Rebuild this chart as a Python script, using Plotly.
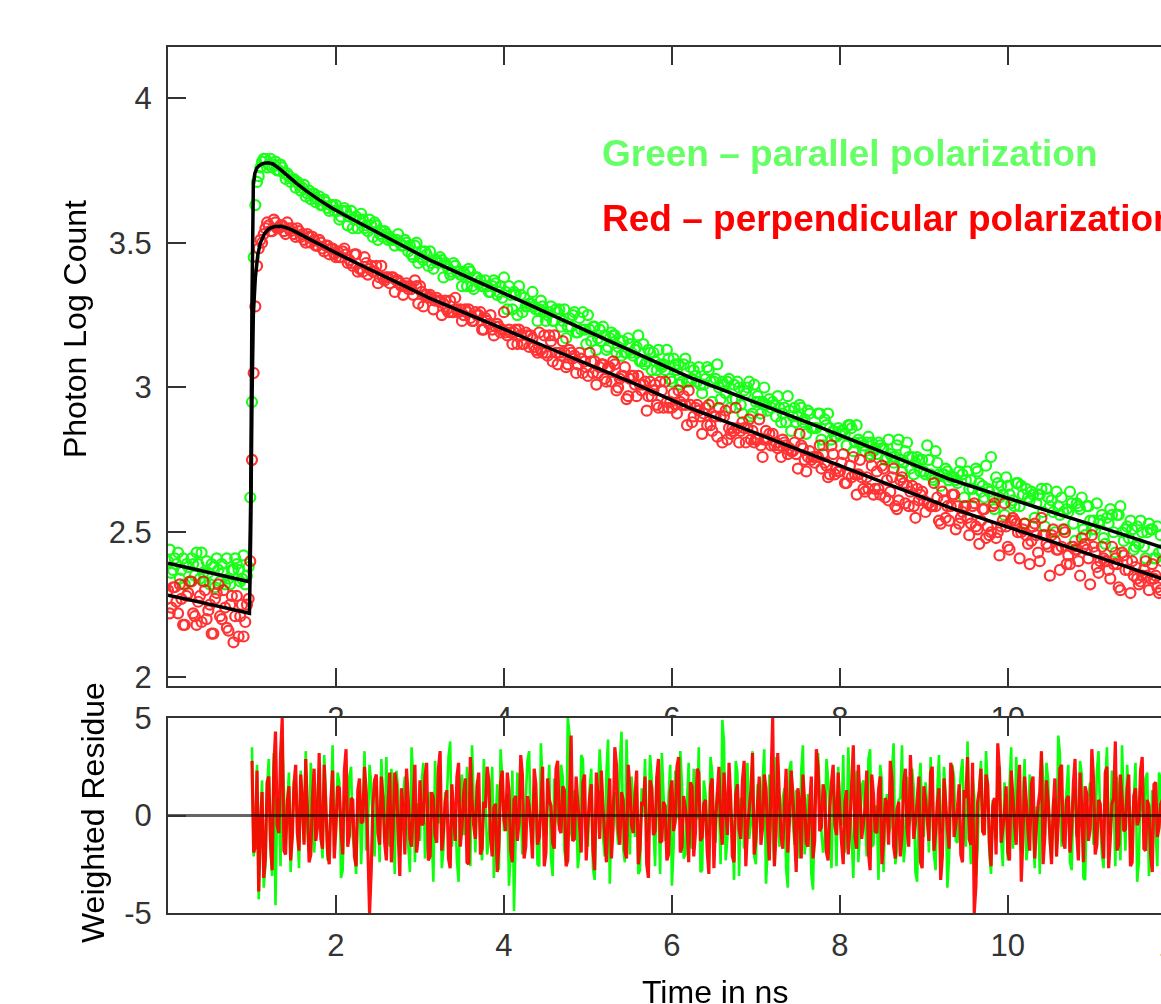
import plotly.graph_objects as go

# ---------------- data ----------------
channel_width_ns = 0.02          # TCSPC time channel width
n_channels = 593
time_ns = [round(channel_width_ns * c, 2) for c in range(n_channels)]

# log10 photon counts, even channels (0, 2, 4, ...) and odd channels (1, 3, 5, ...)
green_log_count_even = [
    2.40, 2.36, 2.41, 2.43, 2.37, 2.32, 2.38, 2.41, 2.35, 2.39,
    2.43, 2.33, 2.36, 2.39, 2.31, 2.37, 2.39, 2.32, 2.34, 2.37,
    2.41, 2.37, 2.34, 2.32, 2.38, 2.95, 3.63, 3.73, 3.78, 3.79,
    3.77, 3.76, 3.78, 3.75, 3.76, 3.72, 3.73, 3.72, 3.69, 3.70,
    3.69, 3.66, 3.68, 3.67, 3.64, 3.66, 3.63, 3.64, 3.61, 3.63,
    3.63, 3.58, 3.61, 3.61, 3.59, 3.55, 3.59, 3.58, 3.58, 3.56,
    3.58, 3.52, 3.56, 3.53, 3.52, 3.53, 3.52, 3.51, 3.51, 3.50,
    3.49, 3.50, 3.49, 3.45, 3.50, 3.45, 3.44, 3.46, 3.47, 3.41,
    3.44, 3.45, 3.38, 3.42, 3.39, 3.43, 3.40, 3.39, 3.40, 3.35,
    3.40, 3.34, 3.38, 3.37, 3.35, 3.35, 3.33, 3.37, 3.32, 3.35,
    3.38, 3.27, 3.32, 3.33, 3.25, 3.32, 3.31, 3.28, 3.29, 3.28,
    3.23, 3.30, 3.26, 3.25, 3.28, 3.23, 3.26, 3.21, 3.27, 3.21,
    3.21, 3.26, 3.19, 3.20, 3.20, 3.25, 3.16, 3.21, 3.17, 3.16,
    3.18, 3.14, 3.19, 3.18, 3.14, 3.11, 3.12, 3.17, 3.12, 3.13,
    3.18, 3.09, 3.08, 3.13, 3.06, 3.09, 3.13, 3.07, 3.06, 3.10,
    3.02, 3.08, 3.08, 3.02, 3.10, 3.02, 3.03, 3.04, 3.07, 2.98,
    3.03, 3.06, 2.95, 3.03, 3.00, 3.02, 2.98, 3.03, 2.96, 2.96,
    3.00, 2.91, 2.98, 3.02, 2.91, 2.95, 2.95, 2.95, 2.94, 2.96,
    2.95, 2.90, 2.93, 2.91, 2.88, 2.92, 2.90, 2.88, 2.94, 2.88,
    2.84, 2.91, 2.86, 2.86, 2.91, 2.80, 2.87, 2.86, 2.85, 2.83,
    2.84, 2.85, 2.80, 2.87, 2.78, 2.87, 2.81, 2.80, 2.81, 2.77,
    2.78, 2.77, 2.80, 2.79, 2.76, 2.77, 2.74, 2.80, 2.75, 2.74,
    2.81, 2.72, 2.70, 2.76, 2.71, 2.71, 2.80, 2.70, 2.68, 2.74,
    2.66, 2.70, 2.71, 2.69, 2.69, 2.67, 2.74, 2.62, 2.71, 2.68,
    2.62, 2.71, 2.64, 2.62, 2.65, 2.76, 2.58, 2.67, 2.66, 2.56,
    2.66, 2.60, 2.59, 2.67, 2.66, 2.53, 2.62, 2.64, 2.55, 2.63,
    2.65, 2.52, 2.62, 2.61, 2.50, 2.59, 2.62, 2.51, 2.57, 2.60,
    2.47, 2.59, 2.62, 2.49, 2.59, 2.51, 2.51, 2.53, 2.56, 2.46,
    2.53, 2.56, 2.43, 2.56, 2.50, 2.51, 2.48, 2.51, 2.45, 2.46,
    2.50, 2.41, 2.53, 2.51, 2.41, 2.43, 2.44,
]
green_log_count_odd = [
    2.44, 2.37, 2.39, 2.34, 2.41, 2.39, 2.33, 2.39, 2.43, 2.34,
    2.36, 2.40, 2.32, 2.38, 2.41, 2.33, 2.36, 2.41, 2.32, 2.37,
    2.39, 2.33, 2.42, 2.35, 2.62, 3.45, 3.71, 3.76, 3.79, 3.76,
    3.79, 3.77, 3.75, 3.77, 3.74, 3.74, 3.71, 3.72, 3.71, 3.68,
    3.70, 3.67, 3.65, 3.67, 3.65, 3.63, 3.65, 3.62, 3.63, 3.61,
    3.61, 3.59, 3.62, 3.56, 3.61, 3.58, 3.55, 3.60, 3.55, 3.54,
    3.56, 3.57, 3.51, 3.54, 3.54, 3.51, 3.51, 3.49, 3.53, 3.49,
    3.51, 3.47, 3.46, 3.49, 3.43, 3.47, 3.47, 3.42, 3.43, 3.44,
    3.43, 3.44, 3.43, 3.41, 3.40, 3.42, 3.40, 3.35, 3.39, 3.41,
    3.35, 3.38, 3.36, 3.35, 3.37, 3.33, 3.35, 3.36, 3.33, 3.31,
    3.33, 3.35, 3.27, 3.32, 3.35, 3.26, 3.28, 3.29, 3.33, 3.27,
    3.27, 3.28, 3.23, 3.26, 3.23, 3.27, 3.27, 3.23, 3.17, 3.24,
    3.25, 3.19, 3.24, 3.26, 3.15, 3.20, 3.21, 3.13, 3.20, 3.21,
    3.13, 3.17, 3.18, 3.12, 3.16, 3.16, 3.12, 3.15, 3.11, 3.14,
    3.09, 3.15, 3.09, 3.12, 3.12, 3.06, 3.08, 3.08, 3.13, 3.03,
    3.10, 3.06, 3.01, 3.08, 3.02, 3.07, 3.06, 3.02, 3.01, 3.01,
    3.07, 3.02, 3.02, 3.08, 2.96, 3.01, 3.02, 2.93, 3.01, 3.02,
    2.94, 2.99, 3.00, 2.90, 3.01, 2.97, 2.91, 3.00, 2.92, 2.93,
    2.94, 2.97, 2.88, 2.93, 2.97, 2.85, 2.93, 2.90, 2.93, 2.89,
    2.92, 2.86, 2.86, 2.91, 2.82, 2.89, 2.91, 2.82, 2.83, 2.86,
    2.85, 2.84, 2.87, 2.86, 2.81, 2.82, 2.81, 2.78, 2.83, 2.81,
    2.79, 2.81, 2.79, 2.75, 2.82, 2.76, 2.76, 2.82, 2.71, 2.78,
    2.76, 2.76, 2.74, 2.75, 2.75, 2.70, 2.75, 2.69, 2.78, 2.70,
    2.70, 2.72, 2.68, 2.69, 2.68, 2.71, 2.70, 2.68, 2.65, 2.65,
    2.72, 2.67, 2.66, 2.73, 2.64, 2.62, 2.69, 2.62, 2.63, 2.69,
    2.63, 2.61, 2.67, 2.59, 2.63, 2.65, 2.61, 2.63, 2.60, 2.63,
    2.57, 2.65, 2.59, 2.57, 2.64, 2.56, 2.57, 2.58, 2.64, 2.53,
    2.60, 2.58, 2.51, 2.59, 2.54, 2.54, 2.60, 2.54, 2.48, 2.55,
    2.58, 2.50, 2.56, 2.59, 2.47, 2.52, 2.54, 2.44, 2.52, 2.54,
    2.45, 2.50, 2.51, 2.41, 2.52, 2.49,
]

red_log_count_even = [
    2.30, 2.24, 2.31, 2.22, 2.27, 2.18, 2.29, 2.33, 2.21, 2.26,
    2.19, 2.30, 2.23, 2.15, 2.27, 2.32, 2.20, 2.24, 2.16, 2.28,
    2.21, 2.14, 2.25, 2.19, 2.27, 2.75, 3.28, 3.48, 3.50, 3.55,
    3.56, 3.54, 3.57, 3.55, 3.56, 3.53, 3.55, 3.55, 3.52, 3.54,
    3.53, 3.50, 3.52, 3.52, 3.49, 3.51, 3.48, 3.49, 3.46, 3.48,
    3.45, 3.45, 3.47, 3.46, 3.44, 3.42, 3.46, 3.41, 3.40, 3.43,
    3.41, 3.40, 3.42, 3.38, 3.38, 3.38, 3.36, 3.38, 3.37, 3.36,
    3.32, 3.36, 3.35, 3.32, 3.35, 3.35, 3.28, 3.32, 3.32, 3.27,
    3.31, 3.30, 3.29, 3.27, 3.30, 3.26, 3.27, 3.27, 3.25, 3.26,
    3.24, 3.23, 3.25, 3.26, 3.20, 3.23, 3.25, 3.18, 3.22, 3.19,
    3.26, 3.18, 3.19, 3.19, 3.15, 3.18, 3.15, 3.18, 3.18, 3.14,
    3.12, 3.13, 3.18, 3.11, 3.16, 3.18, 3.08, 3.11, 3.12, 3.08,
    3.12, 3.11, 3.08, 3.10, 3.09, 3.04, 3.09, 3.09, 3.05, 3.08,
    3.03, 3.07, 3.02, 3.08, 3.00, 3.04, 3.07, 2.97, 3.04, 3.01,
    3.04, 2.99, 3.02, 2.97, 2.97, 3.01, 2.93, 2.99, 3.02, 2.93,
    2.93, 2.94, 2.99, 2.94, 2.94, 2.99, 2.88, 2.93, 2.92, 2.84,
    2.93, 2.94, 2.85, 2.90, 2.93, 2.81, 2.92, 2.86, 2.86, 2.93,
    2.81, 2.88, 2.81, 2.89, 2.85, 2.82, 2.89, 2.76, 2.85, 2.84,
    2.84, 2.81, 2.80, 2.82, 2.80, 2.79, 2.78, 2.77, 2.84, 2.79,
    2.71, 2.78, 2.76, 2.76, 2.80, 2.77, 2.73, 2.70, 2.77, 2.72,
    2.71, 2.77, 2.67, 2.73, 2.76, 2.63, 2.75, 2.65, 2.69, 2.76,
    2.63, 2.71, 2.63, 2.72, 2.68, 2.64, 2.72, 2.58, 2.68, 2.67,
    2.66, 2.64, 2.59, 2.65, 2.63, 2.61, 2.60, 2.59, 2.67, 2.62,
    2.53, 2.61, 2.59, 2.59, 2.63, 2.59, 2.55, 2.59, 2.55, 2.53,
    2.60, 2.51, 2.54, 2.58, 2.52, 2.50, 2.60, 2.50, 2.52, 2.60,
    2.45, 2.54, 2.54, 2.50, 2.50, 2.53, 2.46, 2.47, 2.53, 2.43,
    2.55, 2.49, 2.45, 2.49, 2.47, 2.44, 2.45, 2.50, 2.42, 2.45,
    2.44, 2.40, 2.48, 2.46, 2.41, 2.49, 2.43, 2.36, 2.45, 2.40,
    2.37, 2.45, 2.41, 2.31, 2.43, 2.37, 2.37, 2.40, 2.38, 2.32,
    2.35, 2.40, 2.30, 2.39, 2.35, 2.29, 2.40,
]
red_log_count_odd = [
    2.22, 2.31, 2.26, 2.32, 2.18, 2.28, 2.33, 2.22, 2.18, 2.28,
    2.33, 2.20, 2.25, 2.15, 2.29, 2.21, 2.30, 2.17, 2.25, 2.12,
    2.28, 2.21, 2.14, 2.25, 2.40, 3.05, 3.42, 3.51, 3.53, 3.57,
    3.54, 3.58, 3.55, 3.56, 3.54, 3.57, 3.54, 3.53, 3.55, 3.52,
    3.51, 3.53, 3.50, 3.51, 3.49, 3.50, 3.47, 3.49, 3.48, 3.46,
    3.47, 3.45, 3.48, 3.43, 3.43, 3.46, 3.40, 3.41, 3.45, 3.39,
    3.42, 3.40, 3.36, 3.42, 3.37, 3.38, 3.38, 3.33, 3.37, 3.35,
    3.35, 3.34, 3.34, 3.37, 3.29, 3.33, 3.32, 3.31, 3.31, 3.30,
    3.30, 3.25, 3.30, 3.26, 3.26, 3.31, 3.26, 3.23, 3.27, 3.27,
    3.23, 3.26, 3.25, 3.20, 3.24, 3.22, 3.20, 3.21, 3.21, 3.20,
    3.19, 3.20, 3.15, 3.20, 3.20, 3.15, 3.19, 3.14, 3.17, 3.13,
    3.19, 3.12, 3.12, 3.18, 3.09, 3.12, 3.12, 3.16, 3.07, 3.13,
    3.10, 3.05, 3.12, 3.05, 3.07, 3.12, 3.05, 3.01, 3.07, 3.08,
    3.02, 3.07, 3.09, 2.99, 3.03, 3.04, 2.96, 3.03, 3.04, 2.97,
    3.01, 3.01, 2.92, 3.02, 2.99, 2.94, 3.02, 2.93, 2.95, 2.95,
    2.98, 2.91, 2.95, 2.97, 2.87, 2.94, 2.90, 2.94, 2.90, 2.91,
    2.87, 2.87, 2.90, 2.83, 2.90, 2.90, 2.82, 2.84, 2.85, 2.86,
    2.85, 2.86, 2.86, 2.82, 2.81, 2.82, 2.80, 2.82, 2.82, 2.80,
    2.80, 2.79, 2.76, 2.81, 2.77, 2.78, 2.81, 2.72, 2.80, 2.75,
    2.76, 2.75, 2.74, 2.76, 2.72, 2.74, 2.69, 2.80, 2.70, 2.71,
    2.74, 2.67, 2.70, 2.69, 2.70, 2.70, 2.69, 2.64, 2.65, 2.73,
    2.65, 2.65, 2.73, 2.62, 2.61, 2.69, 2.59, 2.61, 2.69, 2.60,
    2.59, 2.66, 2.55, 2.61, 2.64, 2.57, 2.60, 2.59, 2.59, 2.54,
    2.64, 2.55, 2.54, 2.63, 2.51, 2.53, 2.57, 2.59, 2.49, 2.59,
    2.52, 2.46, 2.58, 2.48, 2.49, 2.59, 2.48, 2.42, 2.54, 2.52,
    2.44, 2.55, 2.53, 2.41, 2.51, 2.49, 2.39, 2.52, 2.49, 2.40,
    2.49, 2.46, 2.35, 2.51, 2.44, 2.37, 2.51, 2.39, 2.39, 2.45,
    2.44, 2.35, 2.45, 2.44, 2.32, 2.45, 2.38, 2.40, 2.41, 2.40,
    2.34, 2.39, 2.39, 2.30, 2.42, 2.40, 2.29, 2.35, 2.34, 2.33,
    2.37, 2.35, 2.34, 2.34, 2.31, 2.30,
]

fit_green_t = [0, 0.5, 0.97, 0.985, 1.0, 1.016, 1.035, 1.056, 1.08, 1.11, 1.15,
               1.19, 1.25, 1.33, 1.43, 1.53, 1.65, 1.8, 1.95, 2.15, 2.4, 2.7,
               3.12, 3.6, 4.2, 5.0, 6.2, 7.0, 7.76, 8.5, 9.31, 10.0, 10.56, 11.2, 11.9]
fit_green = [2.393, 2.36, 2.329, 2.62, 3.30, 3.70, 3.74, 3.757, 3.765, 3.771, 3.775,
             3.776, 3.772, 3.755, 3.73, 3.705, 3.678, 3.648, 3.62, 3.588, 3.55, 3.504,
             3.44, 3.377, 3.299, 3.194, 3.037, 2.948, 2.863, 2.778, 2.683, 2.618, 2.566, 2.508, 2.442]

fit_red_t = [0, 0.5, 0.97, 0.985, 1.0, 1.016, 1.04, 1.07, 1.1, 1.15, 1.2, 1.27, 1.35,
             1.45, 1.55, 1.7, 1.85, 2.0, 2.33, 2.72, 3.12, 3.8, 4.67, 5.5, 6.21, 7.0,
             7.76, 8.5, 9.31, 10.0, 10.56, 11.2, 11.9]
fit_red = [2.283, 2.251, 2.220, 2.5, 2.95, 3.25, 3.38, 3.46, 3.50, 3.532, 3.548, 3.556, 3.557,
           3.548, 3.533, 3.51, 3.488, 3.465, 3.418, 3.364, 3.308, 3.226, 3.12, 3.02, 2.93, 2.842,
           2.757, 2.674, 2.585, 2.518, 2.464, 2.402, 2.333]

residue_first_channel = 50   # weighted residues start at the excitation rise (1.00 ns)

green_residue_even = [
    3.5, -1.2, -4.3, 1.8, -2.5, 2.9, -3.1, -4.6, 0.7, 3.9,
    -1.5, 2.2, -0.8, 1.6, -2.7, 0.4, 3.3, -1.9, 1.1, -0.6,
    2.4, -2.2, 0.9, -1.4, 3.6, -0.3, 1.7, -2.8, 0.5, 2.0,
    -1.1, -3.0, 1.3, 0.2, -1.8, 2.6, -0.9, 1.5, -2.4, 0.8,
    3.0, -1.6, 0.1, 2.3, -2.1, 1.0, -0.4, -2.9, 1.9, 0.6,
    -1.3, 2.7, -0.7, 1.2, -3.4, 0.3, 2.1, -1.7, 0.9, 3.8,
    -0.5, -2.3, 1.4, -1.0, 2.5, -2.6, 0.7, 1.8, -1.2, 2.9,
    -2.0, 0.4, -3.2, 1.6, 3.4, -0.8, 1.1, -1.9, -4.9, 2.2,
    0.3, -1.4, 2.8, -0.6, 1.5, -2.5, 3.7, -1.0, 0.8, -2.2,
    1.9, -0.3, 2.6, -1.8, 5.0, -0.9, 1.3, -2.7, 3.1, 0.2,
    -1.6, 2.4, -3.3, 0.9, 1.7, -2.1, 3.9, -0.4, 1.2, -1.5,
    4.3, -2.4, 0.6, 2.0, -1.1, -3.0, 1.4, 2.9, -0.7, 1.8,
    -2.6, 0.5, 3.2, -1.3, 1.0, -3.6, 2.3, -0.2, 1.6, -2.0,
    2.7, -1.7, 0.3, 3.5, -2.8, 1.1, -0.9, 2.2, -1.4, 0.7,
    4.9, -2.3, 1.5, -0.6, 2.8, -3.1, 0.8, 1.9, -1.2, 3.3,
    -2.5, 0.4, 1.7, -3.5, 2.1, -0.8, 3.0, -1.6, 0.9, -2.7,
    2.4, -0.3, 1.3, -2.2, 3.6, -1.0, 0.6, -3.8, 2.0, 1.2,
    -1.9, 2.9, -0.5, 1.6, -2.6, 0.2, 3.1, -1.3, 1.0, -3.2,
    2.3, -0.7, 1.8, -2.1, 3.4, -1.5, 0.4, 2.6, -2.9, 1.1,
    -0.6, 3.7, -1.8, 0.9, -2.4, 2.0, -0.2, 1.4, -3.4, 2.7,
    -1.1, 0.5, 3.0, -2.0, 1.3, -0.9, 2.5, -3.7, 0.7, 1.9,
    -1.4, 2.2, -0.4, 3.8, -2.5, 1.0, -1.7, 2.8, -0.6, 1.5,
    -3.0, 0.3, 2.4, -1.2, 1.7, -2.3, 3.5, -0.8, 0.6, -1.9,
    2.9, -1.5, 1.2, -2.7, 0.4, 3.2, -1.0, 1.8, -2.2, 0.9,
    4.1, -1.6, 0.2, 2.6, -2.8, 1.4, -0.5, 2.1, -3.3, 1.0,
    0.6, -1.3, 3.3, -2.0, 1.6, -0.7, 2.3, -2.6, 0.8, 3.6,
    -1.8, 1.1, -0.3, 2.7, -2.4, 0.5, 1.9, -3.1, 1.3, -0.9,
    2.2, -1.4,
]
green_residue_odd = [
    -2.1, 2.6, -0.4, -3.7, 1.5, -1.8, 3.2, 0.9, -2.6, 1.3,
    0.6, -2.9, 1.8, -0.5, 2.3, -1.4, -0.8, 2.7, -1.9, 1.1,
    -0.7, 3.1, -2.3, 0.4, -1.6, 2.2, -3.2, 1.0, -0.3, 2.5,
    -1.8, 0.7, -2.5, 3.3, -0.6, 1.6, -2.1, 0.2, 2.9, -1.2,
    -0.9, 2.4, -3.0, 1.3, -0.2, 2.0, -1.5, 3.5, -2.4, 0.5,
    1.7, -2.2, 0.8, -1.1, 2.8, -0.4, -2.7, 1.2, 3.0, -1.6,
    0.3, -3.4, 2.1, -0.8, 1.4, 3.6, -1.9, 0.6, -2.3, 1.0,
    -1.2, 2.5, -0.5, -2.8, 1.9, 0.4, -3.6, 2.3, -1.0, 1.6,
    -2.0, 0.9, 3.3, -1.5, 0.2, -2.6, 1.7, -0.7, 2.6, -3.1,
    1.2, -0.6, 2.0, -2.4, 4.2, -1.3, 0.5, -1.8, 2.9, -0.8,
    1.4, -2.7, 0.3, 3.4, -1.1, 2.2, -3.5, 0.8, -0.4, 2.7,
    -1.7, 3.9, -2.0, 0.6, 1.5, -2.8, 0.1, -1.3, 3.1, -0.5,
    2.0, -3.0, 1.1, -0.9, 2.6, -1.6, 0.4, 3.3, -2.2, 0.7,
    -1.4, 2.4, -0.2, -2.9, 1.8, -1.0, 3.0, -0.6, 1.2, -2.5,
    3.8, -1.2, 0.5, -3.3, 2.2, 0.9, -1.7, 2.7, -0.4, -2.1,
    1.6, -0.9, 3.4, -1.8, 0.3, -2.6, 2.0, -0.3, 1.4, -3.7,
    2.8, -1.5, 0.7, 2.3, -2.0, 1.1, -3.0, 0.4, 3.2, -0.8,
    -1.3, 1.9, -2.7, 0.6, 2.5, -0.5, -1.9, 3.5, -1.1, 0.9,
    -2.4, 1.5, -0.3, 2.9, -1.6, 0.5, -3.3, 1.8, 0.2, -1.0,
    2.2, -2.5, 0.8, 3.6, -1.4, -0.6, 2.4, -2.9, 1.3, -0.2,
    1.7, -1.9, 0.3, -2.8, 3.1, -0.7, 1.0, -2.2, 2.6, -1.3,
    0.6, 2.9, -1.6, -0.4, 2.0, -3.1, 1.4, -0.9, 3.3, -2.0,
    0.8, -1.2, 2.5, -2.6, 0.2, 1.6, -1.7, 3.0, -0.5, 1.1,
    -2.3, 2.1, -0.8, 0.4, -3.0, 1.9, 2.7, -1.4, 0.6, -2.1,
    3.2, -0.6, 1.3, -2.4, 0.9, -1.1, 2.8, -3.2, 0.5, 1.7,
    -1.5, 2.3, -0.2, -2.7, 3.5, -1.0, 0.8, 2.0, -2.3, 0.3,
    2.6, -1.7, 0.9, -3.4, 1.5, -0.4, 2.2, -1.2, 0.7, -2.6,
    1.8,
]

red_residue_even = [
    2.8, -1.6, -3.9, 1.2, -2.2, 2.0, -2.8, 4.3, -0.9, 5.0,
    -2.0, 1.5, -1.1, 2.6, -1.8, 0.7, 2.9, -2.4, 0.9, -1.3,
    3.2, -1.7, 0.4, -2.5, 2.3, -0.6, 1.4, -2.0, 3.4, -1.0,
    0.8, -2.6, 1.9, -0.3, 1.2, -5.0, 0.5, 2.1, -1.5, 0.9,
    -2.3, 2.2, -0.7, 1.6, -3.1, 0.3, 2.4, -1.2, 0.6, -1.9,
    1.8, -0.4, 2.7, -2.1, 0.9, -1.4, 3.3, -0.8, 1.3, -2.7,
    0.2, 2.0, -1.6, 1.1, -2.4, 3.0, -0.5, 1.5, -2.0, 0.7,
    2.5, -1.1, 0.4, -2.9, 1.7, -0.2, 2.2, -1.8, 0.8, -1.3,
    3.1, -2.2, 1.0, -0.6, 2.4, -1.5, 0.3, -2.6, 1.9, 0.5,
    -1.7, 2.8, -0.9, 1.3, -2.3, 4.1, -1.2, 0.6, -1.9, 2.1,
    -0.4, 1.6, -2.8, 0.9, 2.3, -1.0, 0.2, -2.2, 3.5, -0.7,
    1.2, -1.8, 2.6, -0.5, 1.0, -2.5, 0.7, 2.0, -3.2, 1.4,
    -0.8, 2.9, -1.3, 0.5, -2.0, 1.8, -0.3, 3.0, -1.6, 0.4,
    -2.4, 1.5, -0.9, 2.2, -1.1, 0.8, -3.0, 1.9, -0.2, 2.5,
    -1.5, 0.6, 2.7, -2.1, 1.1, -0.7, 1.8, -2.6, 0.3, 3.2,
    -1.2, 2.0, -0.6, 1.4, -2.3, 5.0, -1.0, 0.9, -1.7, 2.4,
    -0.3, 1.2, -2.9, 0.7, 2.1, -1.4, 0.5, -2.2, 3.4, -0.8,
    1.6, -1.9, 0.4, 2.6, -1.0, 0.2, -2.5, 1.3, -0.5, 3.6,
    -1.7, 0.9, -0.4, 2.3, -2.8, 1.1, -0.9, 2.0, -1.3, 0.6,
    2.8, -1.6, 0.3, -2.1, 1.7, -0.7, 3.1, -1.2, 0.8, -2.4,
    1.5, -0.2, 2.2, -1.8, 0.6, -3.3, 1.9, -0.6, 2.7, -1.1,
    0.4, -2.0, 1.3, 3.0, -1.5, -5.0, 0.7, 2.4, -1.0, 1.6,
    -2.6, 0.9, 3.7, -1.4, 0.2, -1.9, 2.3, -0.5, 1.2, -3.4,
    2.0, -0.8, 1.6, -2.2, 0.5, 3.3, -1.1, 0.7, -2.5, 1.9,
    -0.4, 2.6, -1.7, 1.0, -0.6, 2.9, -2.3, 0.3, 1.5, -1.3,
    3.4, -2.0, 0.8, -1.0, 2.2, -2.7, 0.6, 3.8, -1.5, 0.9,
    -0.7, 2.1, -2.4, 1.4, -0.2, 3.0, -1.8, 0.5, -2.9, 1.7,
    -0.6, 0.8,
]
red_residue_odd = [
    -1.9, 2.3, -0.6, -3.2, 1.7, -1.3, 2.5, -0.5, 3.1, -1.8,
    0.7, -2.3, 1.6, -0.9, 2.1, -1.5, 0.4, -2.0, 2.4, -0.6,
    -1.2, 2.6, -1.9, 0.8, -2.2, 1.5, -0.7, 2.3, -1.6, 0.9,
    -2.1, 1.3, -0.4, 2.5, -1.7, -2.8, 1.8, -0.9, 2.0, -1.4,
    0.6, -2.4, 2.2, -0.8, 1.4, -2.0, 0.9, -1.6, 2.6, -1.1,
    -0.5, 2.0, -2.3, 1.2, -1.0, 2.4, -1.8, 0.7, -2.2, 1.6,
    -1.3, 2.7, -0.6, 1.9, -2.5, 0.8, -1.2, 2.2, -1.7, 0.4,
    1.8, -2.1, 0.6, -1.5, 2.3, -0.8, 1.3, -2.4, 1.0, -0.3,
    2.1, -1.6, 0.5, -2.2, 1.6, -1.1, 2.5, -1.9, 0.8, -1.4,
    2.4, -0.7, 1.5, -2.6, 1.1, -1.3, 2.0, -0.5, 1.7, -2.3,
    0.9, -1.8, 2.2, -1.2, 0.4, -2.4, 1.9, -0.6, 2.6, -1.5,
    0.8, -2.2, 1.4, -0.9, 2.3, -1.7, 0.5, -2.5, 1.8, -1.0,
    2.0, -1.4, 0.7, -2.3, 1.2, -0.8, 2.5, -1.9, 1.0, -0.4,
    1.7, -2.1, 2.4, -1.3, 0.6, -1.8, 1.5, -2.7, 1.1, -0.5,
    2.2, -1.0, 0.9, -2.4, 1.6, -1.2, 2.8, -0.7, 1.3, -2.0,
    0.6, -1.5, 2.1, -0.8, 1.8, -2.6, 3.2, -1.1, 0.5, -1.9,
    2.3, -0.9, 1.4, -2.2, 0.8, -1.6, 2.0, -1.3, 2.5, -0.6,
    1.1, -2.3, 1.7, -0.5, 2.2, -1.4, 0.7, -2.0, 1.5, -1.1,
    2.6, -1.2, 0.4, -1.9, 2.1, -0.8, 1.3, -2.5, 0.9, -1.5,
    1.9, -2.2, 0.7, -1.0, 2.4, -1.6, 1.1, -0.4, 2.0, -2.7,
    0.8, -1.3, 2.5, -0.9, 1.4, -2.1, 0.6, -1.7, 2.2, -0.5,
    1.6, -2.4, 0.9, -1.2, 2.7, -3.6, 1.3, -0.8, 2.1, -1.4,
    0.5, -2.0, 2.3, -0.7, 1.5, -2.3, 1.0, -1.5, 2.6, -1.1,
    0.7, -1.8, 2.0, -0.6, 1.2, -2.5, 1.8, -1.0, 0.4, -2.1,
    2.4, -1.3, 0.8, -1.9, 1.6, -0.9, 2.2, -2.4, 1.1, -0.7,
    1.9, -1.5, 0.6, -2.2, 2.5, -1.2, 0.9, -1.8, 2.1, -0.8,
    1.4, -2.6, 1.0, -0.5, 2.3, -1.7, 0.8, -2.0, 1.6, -1.1,
    0.6,
]

y_main_ticks = [2, 2.5, 3, 3.5, 4]
y_main_labels = ["2", "2.5", "3", "3.5", "4"]
y_res_ticks = [-5, 0, 5]
y_res_labels = ["-5", "0", "5"]
x_ticks = [2, 4, 6, 8, 10, 12]
x_labels = ["2", "4", "6", "8", "10", "12"]


def interleave(even, odd):
    out = []
    for i, v in enumerate(even):
        out.append(v)
        if i < len(odd):
            out.append(odd[i])
    return out


green_log_count = interleave(green_log_count_even, green_log_count_odd)
red_log_count = interleave(red_log_count_even, red_log_count_odd)
green_residue = interleave(green_residue_even, green_residue_odd)
red_residue = interleave(red_residue_even, red_residue_odd)
res_time = time_ns[residue_first_channel:residue_first_channel + len(green_residue)]

# ---------------- layout geometry ----------------
W, H = 1300, 1004
L, T, B = 168, 47, 91
X_MAX = 12.8
PW = X_MAX * 84.0
R = W - L - PW
PH = H - T - B


def px_x(px):
    return (px - L) / PW


def px_y(py):
    return (H - B - py) / PH


FONT = "Liberation Sans, Arial, Helvetica, sans-serif"
AX = "#333333"
GREEN = "#00ff00"
RED = "#ff0000"

fig = go.Figure()

fig.add_trace(go.Scatter(
    x=time_ns, y=green_log_count, mode="markers", xaxis="x", yaxis="y",
    marker=dict(symbol="circle-open", size=10, color=GREEN, line=dict(width=2.2, color=GREEN)),
    opacity=0.9, showlegend=False, hoverinfo="skip"))
fig.add_trace(go.Scatter(
    x=time_ns, y=red_log_count, mode="markers", xaxis="x", yaxis="y",
    marker=dict(symbol="circle-open", size=10, color=RED, line=dict(width=2.2, color=RED)),
    opacity=0.8, showlegend=False, hoverinfo="skip"))
fig.add_trace(go.Scatter(
    x=fit_green_t, y=fit_green, mode="lines", xaxis="x", yaxis="y",
    line=dict(color="black", width=3.5, simplify=False), showlegend=False, hoverinfo="skip"))
fig.add_trace(go.Scatter(
    x=fit_red_t, y=fit_red, mode="lines", xaxis="x", yaxis="y",
    line=dict(color="black", width=3.5, simplify=False), showlegend=False, hoverinfo="skip"))

fig.add_trace(go.Scatter(
    x=res_time, y=green_residue, mode="lines", xaxis="x2", yaxis="y2",
    line=dict(color=GREEN, width=2.6, simplify=False), opacity=0.95,
    showlegend=False, hoverinfo="skip"))
fig.add_trace(go.Scatter(
    x=res_time, y=red_residue, mode="lines", xaxis="x2", yaxis="y2",
    line=dict(color=RED, width=3.2, simplify=False), opacity=0.93,
    showlegend=False, hoverinfo="skip"))
fig.add_trace(go.Scatter(
    x=[0, X_MAX], y=[0, 0], mode="lines", xaxis="x2", yaxis="y2",
    line=dict(color="black", width=3), opacity=0.6, showlegend=False, hoverinfo="skip"))

axis_common = dict(
    showgrid=False, zeroline=False, showline=True, linecolor=AX, linewidth=2,
    ticks="inside", ticklen=18, tickwidth=2, tickcolor=AX, mirror="ticks",
    tickfont=dict(family=FONT, size=31, color=AX),
)

fig.update_layout(
    width=W, height=H,
    margin=dict(l=L, r=R, t=T, b=B, pad=0),
    paper_bgcolor="white", plot_bgcolor="white",
    xaxis=dict(domain=[0, 1], range=[0, X_MAX], anchor="y", tickvals=x_ticks,
               ticktext=x_labels, ticklabelstandoff=4, **axis_common),
    yaxis=dict(domain=[px_y(686), 1], range=[1.969, 4.176], anchor="x",
               tickvals=y_main_ticks, ticktext=y_main_labels, ticklabelstandoff=8,
               **axis_common),
    xaxis2=dict(domain=[0, 1], range=[0, X_MAX], anchor="y2", tickvals=x_ticks,
                ticktext=x_labels, ticklabelstandoff=4, **axis_common),
    yaxis2=dict(domain=[0, px_y(718)], range=[-5, 5], anchor="x2",
                tickvals=y_res_ticks, ticktext=y_res_labels, ticklabelstandoff=8,
                **axis_common),
    shapes=[dict(type="rect", xref="x2", yref="y2", x0=0, x1=X_MAX, y0=-5, y1=5,
                 fillcolor="white", line=dict(width=0), layer="below")],
    annotations=[
        dict(text="Green – parallel polarization", xref="paper", yref="paper",
             x=px_x(600), y=px_y(153), xanchor="left", yanchor="middle", showarrow=False,
             font=dict(family=FONT, size=37, color="#66ff66", weight="bold")),
        dict(text="Red – perpendicular polarization", xref="paper", yref="paper",
             x=px_x(600), y=px_y(218), xanchor="left", yanchor="middle", showarrow=False,
             font=dict(family=FONT, size=37, color="#ff0000", weight="bold")),
        dict(text="Photon Log Count", xref="paper", yref="paper", x=px_x(75), y=px_y(329),
             xanchor="center", yanchor="middle", textangle=-90, showarrow=False,
             font=dict(family=FONT, size=32, color="black")),
        dict(text="Weighted Residue", xref="paper", yref="paper", x=px_x(93), y=px_y(813),
             xanchor="center", yanchor="middle", textangle=-90, showarrow=False,
             font=dict(family=FONT, size=32, color="black")),
        dict(text="Time in ns", xref="paper", yref="paper", x=px_x(715), y=px_y(992),
             xanchor="center", yanchor="middle", showarrow=False,
             font=dict(family=FONT, size=32, color="black")),
    ],
)

fig.write_html(
    "out.html",
    config={"displayModeBar": False},
    post_script="document.body.style.margin='0';document.body.style.overflow='hidden';"
                "document.documentElement.style.overflow='hidden';",
)
